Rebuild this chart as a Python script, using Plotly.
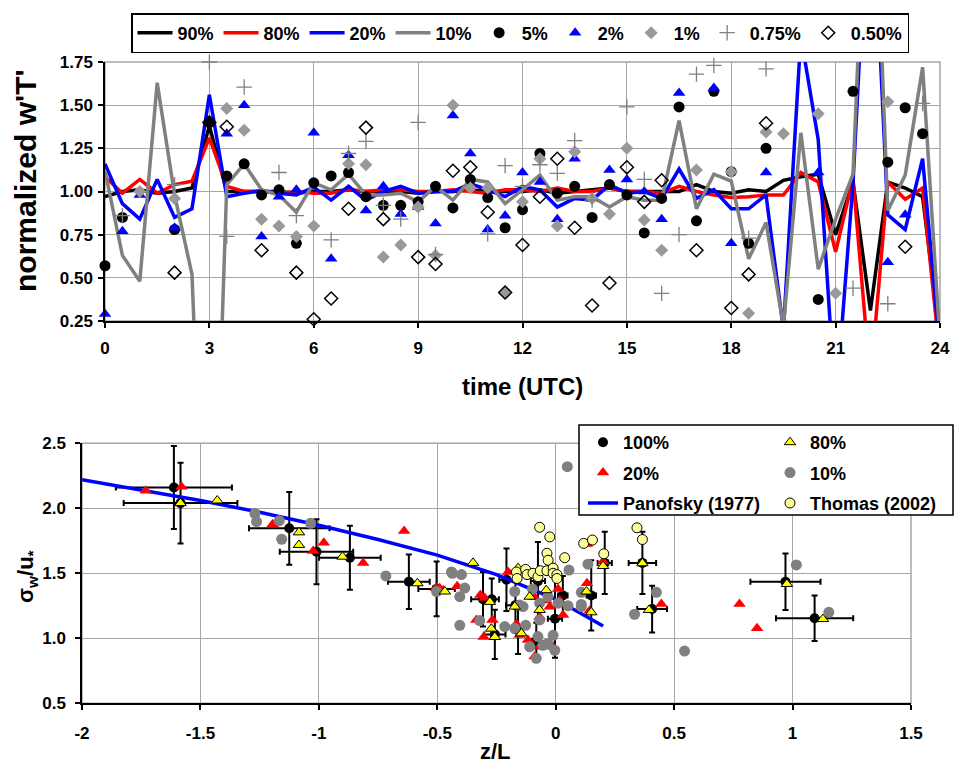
import plotly.graph_objects as go

FONT = "Liberation Sans, Arial, Helvetica, sans-serif"

# ---------------- top panel: normalized w'T' ----------------
time_utc = [0, 0.5, 1, 1.5, 2, 2.5, 3, 3.5, 4, 4.5, 5, 5.5, 6, 6.5, 7, 7.5, 8, 8.5,
            9, 9.5, 10, 10.5, 11, 11.5, 12, 12.5, 13, 13.5, 14, 14.5, 15, 15.5, 16,
            16.5, 17, 17.5, 18, 18.5, 19, 19.5, 20, 20.5, 21, 21.5, 22, 22.5, 23, 23.5, 24]

wt_90 = [0.97, 1.00, 1.01, 0.99, 1.00, 1.02, 1.38, 1.00, 1.00, 1.00,
         1.00, 0.99, 1.00, 1.00, 1.01, 1.00, 1.00, 1.00, 0.99, 1.00,
         1.00, 1.01, 1.00, 1.00, 1.00, 1.01, 0.99, 1.00, 1.01, 1.02,
         1.00, 1.00, 1.00, 1.00, 1.04, 1.00, 0.99, 1.01, 1.00, 1.065,
         1.085, 1.10, 0.75, 1.055, 0.31, 1.055, 1.02, 0.97, 0.15]
wt_80 = [1.085, 0.99, 1.07, 0.99, 1.04, 1.06, 1.31, 1.03, 1.00, 1.00,
         0.99, 1.00, 0.99, 0.99, 1.01, 1.00, 1.01, 1.01, 1.00, 1.00,
         1.01, 1.00, 0.99, 1.01, 1.01, 1.00, 1.02, 1.00, 1.00, 1.02,
         1.00, 1.00, 0.99, 1.03, 1.00, 0.98, 0.965, 0.97, 0.98, 0.98,
         1.11, 1.055, 0.65, 1.075, -0.10, 1.055, 0.955, 1.02, 0.04]
wt_20 = [1.16, 0.93, 0.84, 1.07, 0.85, 0.90, 1.56, 0.97, 0.99, 1.005,
         0.99, 0.98, 1.025, 0.95, 1.03, 0.95, 1.00, 1.03, 0.99, 1.00,
         1.00, 1.045, 1.01, 0.97, 1.03, 1.01, 0.91, 0.96, 0.95, 1.04,
         0.99, 1.00, 0.96, 1.13, 0.96, 1.01, 0.90, 0.90, 0.98, 0.20,
         1.90, 1.30, -0.25, 1.05, 3.0, 0.865, 0.78, 1.19, 0.08]
wt_10 = [1.12, 0.63, 0.48, 1.63, 0.98, 0.52, -2.0, 1.04, 1.16, 1.01,
         0.98, 0.88, 1.05, 1.01, 1.10, 0.98, 0.98, 0.99, 0.94, 1.03,
         0.95, 1.07, 1.055, 0.93, 1.01, 1.095, 0.95, 0.97, 0.97, 0.91,
         0.97, 0.95, 0.95, 1.41, 0.90, 1.10, 1.06, 0.61, 0.82, 0.22,
         1.34, 0.55, 0.84, 1.10, 3.5, 0.89, 1.095, 1.72, 0.13]

p5_t = [0, 0.5, 2, 3, 3.5, 4, 4.5, 5, 5.5, 6, 6.5, 7, 7.5, 8, 8.5, 9, 9.5, 10, 10.5, 11,
        11.5, 12, 12.5, 13, 13.5, 14, 14.5, 15, 15.5, 16, 16.5, 17, 17.5, 18, 18.5, 19,
        20.5, 21.5, 22.5, 23, 23.5]
p5_v = [0.57, 0.85, 0.78, 1.40, 1.09, 1.16, 0.98, 1.01, 0.70, 1.05, 1.09, 1.11, 0.97, 0.92,
        0.92, 0.94, 1.03, 0.905, 1.07, 0.965, 0.79, 0.895, 1.22, 0.99, 1.03, 0.85, 1.04,
        0.98, 0.76, 0.96, 1.49, 0.83, 1.58, 1.115, 0.70, 1.25, 0.375, 1.58, 1.17, 1.485, 1.335]

p2_t = [0, 0.5, 1, 2, 3.5, 4, 4.5, 5, 5.5, 6, 6.5, 7, 7.5, 8, 8.5, 9, 9.5, 10, 10.5, 11,
        11.5, 12, 12.5, 13, 13.5, 14, 14.5, 15, 15.5, 16, 16.5, 17.5, 18, 19, 20.5, 22.5, 23]
p2_v = [0.29, 0.77, 0.98, 0.79, 1.335, 1.50, 0.74, 0.97, 1.01, 1.34, 0.61, 1.21, 0.89, 1.03,
        0.87, 0.91, 0.815, 1.44, 1.22, 0.78, 0.86, 1.11, 1.055, 0.84, 1.19, 0.96, 1.125,
        1.07, 1.00, 0.84, 1.57, 1.60, 0.70, 1.11, 1.11, 0.59, 0.865]

p1_t = [1, 2, 3.5, 4, 4.5, 5, 5.5, 6, 7, 7.5, 8, 8.5, 9, 9.5, 10, 10.5, 11, 11.5, 12, 12.5,
        13, 13.5, 14, 14.5, 15, 15.5, 16, 17, 18, 18.5, 19, 19.5, 20.5, 21, 22.5]
p1_v = [1.00, 0.96, 1.48, 1.355, 0.84, 0.80, 0.74, 0.80, 1.16, 1.155, 0.62, 0.69, 0.91, 0.63,
        1.50, 1.02, 1.02, 0.415, 0.94, 1.19, 0.80, 1.23, 0.96, 0.87, 1.25, 0.835, 0.66, 1.125,
        1.115, 0.295, 1.345, 1.335, 1.45, 0.41, 1.52]

p075_t = [0.5, 2, 3, 3.5, 4, 5, 5.5, 6.5, 7, 7.5, 8, 8.5, 9, 9.5, 11, 11.5, 12, 12.5, 13,
          13.5, 14, 15, 15.5, 16, 16.5, 17, 17.5, 18.5, 19, 21.5, 22.5, 23.5]
p075_v = [0.86, 1.04, 1.75, 0.74, 1.605, 1.11, 0.86, 0.72, 1.22, 1.29, 0.92, 0.84, 1.40, 0.635,
          0.755, 1.15, 1.03, 1.155, 1.105, 1.295, 0.95, 1.49, 1.07, 0.41, 0.75, 1.68, 1.73,
          0.73, 1.71, 0.44, 0.35, 1.51]

p050_t = [2, 3, 3.5, 4.5, 5.5, 6, 6.5, 7, 7.5, 8, 9, 9.5, 10, 10.5, 11, 11.5, 12, 12.5, 13,
          13.5, 14, 14.5, 15, 15.5, 16, 17, 18, 18.5, 19, 23]
p050_v = [0.53, 1.40, 1.375, 0.66, 0.53, 0.26, 0.38, 0.90, 1.37, 0.84, 0.62, 0.58, 1.12, 1.14,
          0.88, 0.415, 0.69, 0.97, 1.19, 0.79, 0.34, 0.47, 1.14, 0.94, 1.065, 0.66, 0.325,
          0.52, 1.395, 0.68]

top_xticks = [0, 3, 6, 9, 12, 15, 18, 21, 24]
top_yticks = [0.25, 0.50, 0.75, 1.00, 1.25, 1.50, 1.75]
top_yticktext = ["0.25", "0.50", "0.75", "1.00", "1.25", "1.50", "1.75"]

# ---------------- bottom panel: sigma_w/u* vs z/L ----------------
s100_x = [-1.612, -1.584, -1.125, -1.01, -0.869, -0.62, -0.503, -0.307, -0.27, -0.257,
          -0.208, -0.17, -0.159, -0.075, -0.082, -0.003, 0.03, 0.15, 0.207, 0.366, 0.407,
          0.97, 1.093]
s100_y = [2.16, 2.04, 1.846, 1.666, 1.62, 1.435, 1.38, 1.30, 1.30, 1.03,
          1.45, 1.255, 1.06, 1.44, 0.98, 1.15, 1.33, 1.33, 1.58, 1.58, 1.225,
          1.435, 1.154]
s100_ex = [0.245, 0.24, 0.17, 0.155, 0.13, 0.088, 0.077, 0.05, 0.03, 0.045,
           0.03, 0.04, 0.02, 0.03, 0.02, 0.03, 0.02, 0.02, 0.03, 0.058, 0.063,
           0.148, 0.163]
s100_ey = [0.32, 0.31, 0.28, 0.25, 0.246, 0.21, 0.21, 0.21, 0.16, 0.19,
           0.24, 0.20, 0.18, 0.30, 0.14, 0.30, 0.15, 0.27, 0.24, 0.24, 0.18,
           0.218, 0.175]

s80_x = [-1.584, -1.429, -1.084, -1.084, -0.9, -0.584, -0.468, -0.349, -0.278, -0.272, -0.257,
         -0.173, -0.159, -0.145, -0.11, -0.068, -0.04, 0.13, 0.15, 0.2, 0.366, 0.394, 0.976, 1.128]
s80_y = [2.04, 2.06, 1.815, 1.718, 1.628, 1.423, 1.36, 1.58, 1.28, 1.074, 1.01,
         1.244, 1.54, 1.038, 1.32, 1.218, 1.37, 1.36, 1.2, 1.556, 1.577, 1.218, 1.418, 1.148]

s20_x = [-1.731, -1.58, -1.195, -1.024, -0.979, -0.813, -0.64, -0.505, -0.49, -0.416, -0.475,
         -0.318, -0.3, -0.335, -0.304, -0.267, -0.201, -0.166, -0.152, -0.117, -0.089, -0.089,
         -0.068, -0.068, -0.04, -0.025, -0.011, 0.010, 0.017, 0.031, 0.132, 0.132, 0.143,
         0.2, 0.446, 0.776, 0.85]
s20_y = [2.135, 2.166, 1.877, 1.672, 1.735, 1.58, 1.825, 1.385, 1.385, 1.40, 1.37,
         1.333, 1.31, 1.14, 1.01, 1.14, 1.51, 1.11, 1.025, 0.987, 1.315, 0.86,
         1.166, 0.935, 1.29, 1.243, 0.935, 1.38, 1.29, 1.18, 1.725, 1.423, 1.212,
         1.59, 1.264, 1.264, 1.077]

s10_x = [-1.27, -1.263, -1.167, -1.157, -1.035, -0.717, -0.503, -0.44, -0.436, -0.398, -0.384,
         -0.405, -0.405, -0.321, -0.215, -0.173, -0.173, -0.152, -0.138, -0.127, -0.11, -0.098,
         -0.082, -0.075, -0.068, -0.068, -0.054, -0.033, -0.033, -0.011, -0.004, 0.010, 0.052,
         0.049, 0.056, 0.108, 0.108, 0.108, 0.136, 0.333, 0.425, 0.544, 1.016, 1.153]
s10_y = [1.96, 1.897, 1.905, 1.762, 1.885, 1.48, 1.36, 1.51, 1.50, 1.49, 1.387,
         1.32, 1.10, 1.136, 1.09, 1.36, 1.077, 1.256, 1.244, 1.10, 0.935, 1.38,
         0.846, 1.013, 1.27, 1.141, 0.946, 1.32, 0.96, 1.023, 0.908, 1.27, 1.25,
         2.32, 1.525, 1.244, 1.354, 1.26, 1.57, 1.185, 1.354, 0.902, 1.564, 1.2]

pan_x = [-2.0, -1.75, -1.5, -1.25, -1.0, -0.75, -0.5, -0.25, 0.0, 0.2]
pan_y = [2.22, 2.14, 2.06, 1.97, 1.87, 1.76, 1.64, 1.49, 1.30, 1.095]

tho_x = [-0.166, -0.163, -0.127, -0.121, -0.096, -0.075, -0.068, -0.065, -0.037, -0.037, -0.032,
         -0.025, -0.011, -0.011, 0.005, 0.005, 0.038, 0.118, 0.155, 0.203, 0.343, 0.366]
tho_y = [1.51, 1.46, 1.53, 1.49, 1.50, 1.474, 1.854, 1.52, 1.654, 1.52, 1.60,
         1.78, 1.54, 1.50, 1.49, 1.46, 1.62, 1.73, 1.756, 1.65, 1.85, 1.76]

bot_xticks = [-2, -1.5, -1, -0.5, 0, 0.5, 1, 1.5]
bot_xticktext = ["-2", "-1.5", "-1", "-0.5", "0", "0.5", "1", "1.5"]
bot_yticks = [0.5, 1.0, 1.5, 2.0, 2.5]
bot_yticktext = ["0.5", "1.0", "1.5", "2.0", "2.5"]

W, H = 954, 768

fig = go.Figure()

# top lines
for name, vals, col in [("90%", wt_90, "#000000"), ("80%", wt_80, "#FF0000"),
                        ("20%", wt_20, "#0000FF"), ("10%", wt_10, "#808080")]:
    fig.add_trace(go.Scatter(x=time_utc, y=vals, mode="lines", name=name,
                             line=dict(color=col, width=3.5), xaxis="x", yaxis="y",
                             legend="legend"))

fig.add_trace(go.Scatter(x=p5_t, y=p5_v, mode="markers", name="5%", cliponaxis=False,
                         marker=dict(symbol="circle", size=11, color="#000000"),
                         xaxis="x", yaxis="y", legend="legend"))
fig.add_trace(go.Scatter(x=p2_t, y=p2_v, mode="markers", name="2%", cliponaxis=False,
                         marker=dict(symbol="triangle-up", size=11, color="#0000FF"),
                         xaxis="x", yaxis="y", legend="legend"))
fig.add_trace(go.Scatter(x=p1_t, y=p1_v, mode="markers", name="1%", cliponaxis=False,
                         marker=dict(symbol="diamond", size=10, color="#999999"),
                         xaxis="x", yaxis="y", legend="legend"))
fig.add_trace(go.Scatter(x=p075_t, y=p075_v, mode="markers", name="0.75%", cliponaxis=False,
                         marker=dict(symbol="cross-thin", size=11, color="#808080",
                                     line=dict(color="#808080", width=1.3)),
                         xaxis="x", yaxis="y", legend="legend"))
fig.add_trace(go.Scatter(x=p050_t, y=p050_v, mode="markers", name="0.50%", cliponaxis=False,
                         marker=dict(symbol="diamond-open", size=10, color="#000000",
                                     line=dict(color="#000000", width=1.5)),
                         xaxis="x", yaxis="y", legend="legend"))

# bottom panel
fig.add_trace(go.Scatter(x=s100_x, y=s100_y, mode="markers", name="100%", cliponaxis=False,
                         marker=dict(symbol="circle", size=10, color="#000000"),
                         error_x=dict(type="data", array=s100_ex, color="#000000",
                                      thickness=2, width=3),
                         error_y=dict(type="data", array=s100_ey, color="#000000",
                                      thickness=2, width=3),
                         xaxis="x2", yaxis="y2", legend="legend2", legendrank=1,
                         legendgroup="g100"))
fig.add_trace(go.Scatter(x=pan_x, y=pan_y, mode="lines", name="Panofsky (1977)",
                         line=dict(color="#0000FF", width=3.5),
                         xaxis="x2", yaxis="y2", legend="legend2", legendrank=3,
                         legendgroup="gpan"))
fig.add_trace(go.Scatter(x=s20_x, y=s20_y, mode="markers", name="20%", cliponaxis=False,
                         marker=dict(symbol="triangle-up", size=11, color="#FF0000"),
                         xaxis="x2", yaxis="y2", legend="legend2", legendrank=2,
                         legendgroup="g20"))
fig.add_trace(go.Scatter(x=s10_x, y=s10_y, mode="markers", name="10%", cliponaxis=False,
                         marker=dict(symbol="circle", size=11, color="#808080"),
                         xaxis="x2", yaxis="y2", legend="legend3", legendrank=2,
                         legendgroup="g10"))
fig.add_trace(go.Scatter(x=s80_x, y=s80_y, mode="markers", name="80%", cliponaxis=False,
                         marker=dict(symbol="triangle-up", size=10, color="#FFFF00",
                                     line=dict(color="#000000", width=1)),
                         xaxis="x2", yaxis="y2", legend="legend3", legendrank=1,
                         legendgroup="g80"))
fig.add_trace(go.Scatter(x=tho_x, y=tho_y, mode="markers", name="Thomas (2002)", cliponaxis=False,
                         marker=dict(symbol="circle", size=10, color="#FFFF99",
                                     line=dict(color="#000000", width=1)),
                         xaxis="x2", yaxis="y2", legend="legend3", legendrank=3,
                         legendgroup="gtho"))

tickfont = dict(family=FONT, size=17, color="#000000", weight="bold")
grid = "#A6A6A6"

axis_common = dict(showgrid=True, gridcolor=grid, gridwidth=1, zeroline=False,
                   showline=True, linecolor="#000000", linewidth=1.5,
                   ticks="outside", ticklen=5, tickwidth=1.5, tickcolor="#000000",
                   tickfont=tickfont, automargin=False)

legfont = dict(family=FONT, size=18, color="#000000", weight="bold")

fig.update_layout(
    width=W, height=H,
    margin=dict(l=0, r=0, t=0, b=0),
    paper_bgcolor="white", plot_bgcolor="white",
    xaxis=dict(domain=[105 / W, 940 / W], anchor="y", range=[0, 24],
               tickvals=top_xticks, ticklabelstandoff=6, **axis_common),
    yaxis=dict(domain=[1 - 321 / H, 1 - 62 / H], anchor="x", range=[0.25, 1.75],
               tickvals=top_yticks, ticktext=top_yticktext, ticklabelstandoff=2,
               **axis_common),
    xaxis2=dict(domain=[82 / W, 911 / W], anchor="y2", range=[-2, 1.5],
                tickvals=bot_xticks, ticktext=bot_xticktext, ticklabelstandoff=9,
                **axis_common),
    yaxis2=dict(domain=[1 - 703.3 / H, 1 - 443.3 / H], anchor="x2", range=[0.5, 2.5],
                tickvals=bot_yticks, ticktext=bot_yticktext, ticklabelstandoff=6,
                **axis_common),
    legend=dict(orientation="h", x=131 / W, y=1 - 13 / H, xanchor="left", yanchor="top",
                bgcolor="white", bordercolor="#000000", borderwidth=1.5, itemwidth=35,
                font=legfont),
    legend2=dict(orientation="v", x=583 / W, y=1 - 424 / H, xanchor="left", yanchor="top",
                 bgcolor="rgba(0,0,0,0)", borderwidth=0, traceorder="grouped",
                 tracegroupgap=4, font=legfont),
    legend3=dict(orientation="v", x=770 / W, y=1 - 424 / H, xanchor="left", yanchor="top",
                 bgcolor="rgba(0,0,0,0)", borderwidth=0, traceorder="grouped",
                 tracegroupgap=4, font=legfont),
    shapes=[
        dict(type="rect", xref="x domain", yref="y domain", x0=0, x1=1, y0=0, y1=1,
             line=dict(color=grid, width=1.5), layer="below"),
        dict(type="rect", xref="x2 domain", yref="y2 domain", x0=0, x1=1, y0=0, y1=1,
             line=dict(color=grid, width=1.5), layer="below"),
        dict(type="rect", xref="paper", yref="paper", x0=579 / W, x1=953 / W,
             y0=1 - 515 / H, y1=1 - 425 / H, fillcolor="white",
             line=dict(color="#000000", width=1.5), layer="above"),
    ],
    annotations=[
        dict(text="normalized w'T'", xref="paper", yref="paper", x=25 / W, y=1 - 181 / H,
             textangle=-90, showarrow=False, xanchor="center", yanchor="middle",
             font=dict(family=FONT, size=30, color="#000000", weight="bold")),
        dict(text="time (UTC)", xref="paper", yref="paper", x=522 / W, y=1 - 386 / H,
             showarrow=False, xanchor="center", yanchor="middle",
             font=dict(family=FONT, size=24, color="#000000", weight="bold")),
        dict(text="σ<sub>w</sub>/u<sub>*</sub>", xref="paper", yref="paper", x=27 / W,
             y=1 - 577 / H, textangle=-90, showarrow=False, xanchor="center",
             yanchor="middle",
             font=dict(family=FONT, size=22, color="#000000", weight="bold")),
        dict(text="z/L", xref="paper", yref="paper", x=496 / W, y=1 - 766 / H,
             showarrow=False, xanchor="center", yanchor="bottom",
             font=dict(family=FONT, size=22, color="#000000", weight="bold")),
    ],
)

fig.write_html("out.html")
